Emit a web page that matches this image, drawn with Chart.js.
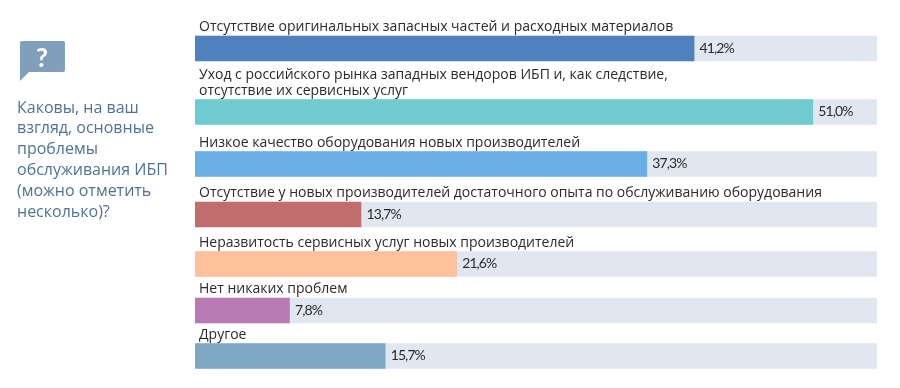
<!DOCTYPE html>
<html><head><meta charset="utf-8">
<script src="https://cdn.jsdelivr.net/npm/chart.js@4"></script>
<style>html,body{margin:0;padding:0;background:#fff}#w{position:relative;width:900px;height:388px}</style>
</head><body><div id="w"><canvas id="c" width="900" height="388"></canvas></div>
<script>
const categories = [
  ["Отсутствие оригинальных запасных частей и расходных материалов"],
  ["Уход с российского рынка западных вендоров ИБП и, как следствие,", "отсутствие их сервисных услуг"],
  ["Низкое качество оборудования новых производителей"],
  ["Отсутствие у новых производителей достаточного опыта по обслуживанию оборудования"],
  ["Неразвитость сервисных услуг новых производителей"],
  ["Нет никаких проблем"],
  ["Другое"]
];
const values = [41.2, 51.0, 37.3, 13.7, 21.6, 7.8, 15.7];
const valueLabels = ["41,2%", "51,0%", "37,3%", "13,7%", "21,6%", "7,8%", "15,7%"];
const track = [56.3, 56.3, 56.3, 56.3, 56.3, 56.3, 56.3];
const colors = ["#4f81bd", "#6fcbd0", "#6aafe3", "#c26d6d", "#fec19c", "#b87ab3", "#80a8c4"];
const question = ["Каковы, на ваш", "взгляд, основные", "проблемы", "обслуживания ИБП", "(можно отметить", "несколько)?"];
// row centres on a y axis measured in canvas pixels: the reference spaces rows unevenly
const rowCentres = [48.5, 112, 164, 214.5, 264, 310.5, 356];

const overlay = {
  id: "overlay",
  afterDatasetsDraw(chart) {
    const {ctx, scales: {x, y}} = chart;
    ctx.save();
    ctx.textBaseline = "alphabetic";
    ctx.textAlign = "left";
    ctx.fillStyle = "#2a2a2a";
    categories.forEach((lines, i) => {
      const top = y.getPixelForValue(rowCentres[i]) - 12.5;
      ctx.font = '14px "Open Sans", Lato, sans-serif';
      ctx.letterSpacing = "0px";
      lines.forEach((t, k) => ctx.fillText(t, 199, top - 5 - (lines.length - 1 - k) * 15.5));
      ctx.font = '14px Lato, sans-serif';
      ctx.letterSpacing = "-0.9px";
      ctx.fillText(valueLabels[i], x.getPixelForValue(values[i]) + 5.5, top + 16.8);
    });
    ctx.letterSpacing = "0px";
    // question icon
    ctx.fillStyle = "#7f9fba";
    ctx.beginPath();
    ctx.moveTo(22, 41); ctx.lineTo(63, 41);
    ctx.quadraticCurveTo(65, 41, 65, 43);
    ctx.lineTo(65, 70); ctx.quadraticCurveTo(65, 72, 63, 72);
    ctx.lineTo(29, 72); ctx.lineTo(20, 81); ctx.lineTo(20, 43);
    ctx.quadraticCurveTo(20, 41, 22, 41);
    ctx.fill();
    ctx.fillStyle = "#ffffff";
    ctx.font = 'bold 26px Lato, sans-serif';
    ctx.textAlign = "center";
    ctx.fillText("?", 42, 67);
    ctx.textAlign = "left";
    ctx.fillStyle = "#4f7396";
    ctx.font = '16px "Open Sans", Lato, sans-serif';
    question.forEach((t, i) => ctx.fillText(t, 17, 112.5 + i * 20.8));
    ctx.restore();
  }
};

new Chart(document.getElementById("c"), {
  type: "bar",
  data: {
    datasets: [
      {data: values.map((v, i) => ({x: v, y: rowCentres[i]})), backgroundColor: colors, barThickness: 25, order: 1, grouped: false},
      {data: track.map((v, i) => ({x: v, y: rowCentres[i]})), backgroundColor: "#e0e7f1", barThickness: 25, order: 2, grouped: false}
    ]
  },
  options: {
    indexAxis: "y",
    responsive: false,
    animation: false,
    layout: {padding: {left: 195, right: 23, top: 0, bottom: 0}},
    plugins: {legend: {display: false}, tooltip: {enabled: false}},
    scales: {
      x: {type: "linear", min: 0, max: 56.3, display: false},
      y: {type: "linear", min: 0, max: 388, reverse: true, display: false, offset: false}
    }
  },
  plugins: [overlay]
});
</script></body></html>
